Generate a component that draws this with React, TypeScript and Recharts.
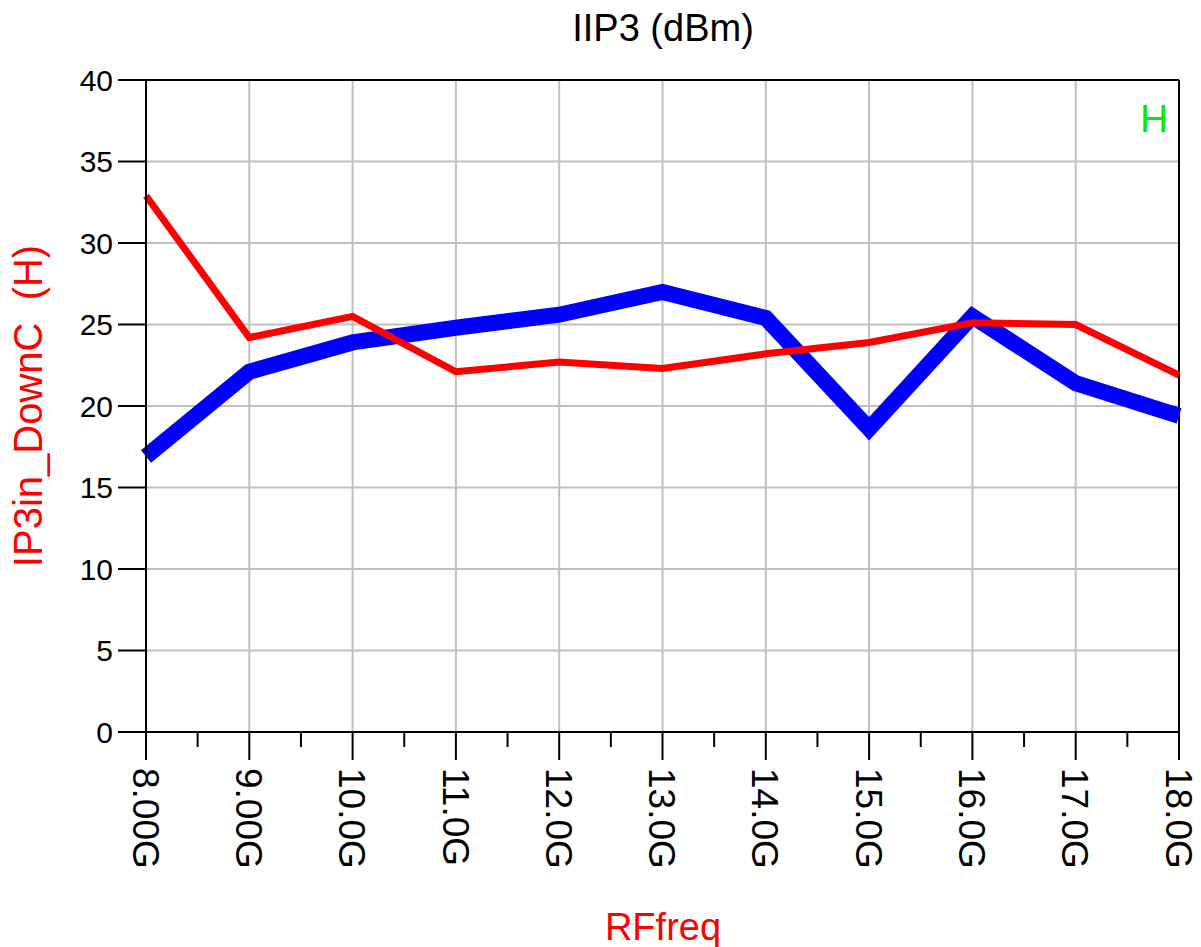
import React from "react"
import { LineChart, Line, XAxis, YAxis, CartesianGrid, ReferenceLine, Label, Customized } from "recharts"

const freqs = [8, 9, 10, 11, 12, 13, 14, 15, 16, 17, 18]
const freqLabels = ["8.00G", "9.00G", "10.0G", "11.0G", "12.0G", "13.0G", "14.0G", "15.0G", "16.0G", "17.0G", "18.0G"]
const redValues = [32.9, 24.2, 25.5, 22.1, 22.7, 22.3, 23.2, 23.9, 25.1, 25.0, 21.9]
const blueValues = [16.9, 22.1, 23.9, 24.8, 25.6, 27.0, 25.4, 18.6, 25.5, 21.4, 19.4]
const yTicks = [0, 5, 10, 15, 20, 25, 30, 35, 40]
const xTicks = [8, 8.5, 9, 9.5, 10, 10.5, 11, 11.5, 12, 12.5, 13, 13.5, 14, 14.5, 15, 15.5, 16, 16.5, 17, 17.5, 18]
const gridX = [9, 10, 11, 12, 13, 14, 15, 16, 17]

const data = freqs.map((f, i) => ({ freq: f, red: redValues[i], blue: blueValues[i] }))

const FONT = "'Liberation Sans', Arial, sans-serif"

function FreqTick(props: any) {
  const { x, y, payload } = props
  const v = payload.value
  const idx = freqs.indexOf(v)
  // half-step ticks are short and unlabeled
  if (idx < 0) {
    return <line x1={x} x2={x} y1={y} y2={y + 15} stroke="#000" strokeWidth={2} />
  }
  return (
    <g>
      <line x1={x} x2={x} y1={y} y2={y + 28} stroke="#000" strokeWidth={2} />
      <text
        transform={`translate(${x},${y + 36}) rotate(90)`}
        dy="0.36em"
        textAnchor="start"
        fontSize={37}
        fontFamily={FONT}
        fill="#000"
      >
        {freqLabels[idx]}
      </text>
    </g>
  )
}

function Titles() {
  return (
    <g fontFamily={FONT}>
      <text x={663} y={41} textAnchor="middle" fontSize={38} fill="#000">IIP3 (dBm)</text>
      <text x={1154} y={132} textAnchor="middle" fontSize={39} fill="#00ee00">H</text>
    </g>
  )
}

export default function App() {
  return (
    <div style={{ position: "absolute", left: 0, top: 0, background: "#fff" }}>
      <LineChart width={1201} height={947} data={data} margin={{ top: 80, right: 22, bottom: 0, left: 0 }}>
        <CartesianGrid vertical={false} stroke="#c0c0c0" strokeWidth={2} />
        {gridX.map((g) => (
          <ReferenceLine key={g} x={g} stroke="#c0c0c0" strokeWidth={2} zIndex={-50} />
        ))}
        <ReferenceLine x={18} stroke="#000" strokeWidth={2} />
        <ReferenceLine y={40} stroke="#000" strokeWidth={2} />
        <XAxis
          dataKey="freq"
          type="number"
          domain={[8, 18]}
          ticks={xTicks}
          interval={0}
          height={215}
          tickSize={0}
          tickMargin={0}
          tickLine={false}
          axisLine={{ stroke: "#000", strokeWidth: 2 }}
          tick={<FreqTick />}
        >
          <Label
            content={() => (
              <text x={663} y={940} textAnchor="middle" fontSize={38} fontFamily={FONT} fill="#ff0000">
                RFfreq
              </text>
            )}
          />
        </XAxis>
        <YAxis
          type="number"
          domain={[0, 40]}
          ticks={yTicks}
          interval={0}
          width={146}
          tickSize={28}
          tickMargin={5}
          tickLine={{ stroke: "#000", strokeWidth: 2 }}
          axisLine={{ stroke: "#000", strokeWidth: 2 }}
          tick={{ fill: "#000", fontSize: 30, fontFamily: FONT }}
        >
          <Label
            content={() => (
              <text
                transform="translate(42,406) rotate(-90)"
                textAnchor="middle"
                fontSize={40}
                fontFamily={FONT}
                fill="#ff0000"
              >
                {"IP3in_DownC\u00a0\u00a0(H)"}
              </text>
            )}
          />
        </YAxis>
        <Line
          type="linear"
          dataKey="blue"
          stroke="#0000ff"
          strokeWidth={16}
          dot={false}
          activeDot={false}
          isAnimationActive={false}
        />
        <Line
          type="linear"
          dataKey="red"
          stroke="#ff0000"
          strokeWidth={7}
          dot={false}
          activeDot={false}
          isAnimationActive={false}
        />
        <Customized component={Titles} />
      </LineChart>
    </div>
  )
}
